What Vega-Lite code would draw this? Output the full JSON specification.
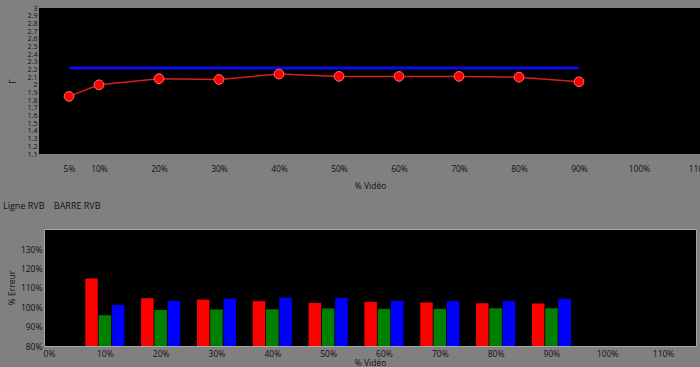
{
  "$schema": "https://vega.github.io/schema/vega-lite/v6.json",
  "background": "#808080",
  "padding": {"left": 2, "top": 4, "right": 0, "bottom": 0},
  "bounds": "flush",
  "center": true,
  "spacing": 75,
  "config": {
    "font": "Open Sans",
    "view": {"fill": "#000000", "stroke": null},
    "axis": {
      "labelFont": "Open Sans", "titleFont": "Open Sans",
      "labelFontSize": 8.5, "titleFontSize": 8.5,
      "labelColor": "#111111", "titleColor": "#111111",
      "titleFontWeight": "normal", "grid": false, "ticks": false, "domain": false,
      "labelOverlap": false
    }
  },
  "datasets": {
    "gamma": [
      {"pct": 5, "gamma": 1.85, "target": 2.22},
      {"pct": 10, "gamma": 2.0, "target": 2.22},
      {"pct": 20, "gamma": 2.08, "target": 2.22},
      {"pct": 30, "gamma": 2.07, "target": 2.22},
      {"pct": 40, "gamma": 2.14, "target": 2.22},
      {"pct": 50, "gamma": 2.11, "target": 2.22},
      {"pct": 60, "gamma": 2.11, "target": 2.22},
      {"pct": 70, "gamma": 2.11, "target": 2.22},
      {"pct": 80, "gamma": 2.1, "target": 2.22},
      {"pct": 90, "gamma": 2.04, "target": 2.22}
    ],
    "rgb": [
      {"pct": 10, "channel": "R", "value": 114.9},
      {"pct": 10, "channel": "G", "value": 95.9},
      {"pct": 10, "channel": "B", "value": 101.2},
      {"pct": 20, "channel": "R", "value": 104.7},
      {"pct": 20, "channel": "G", "value": 98.7},
      {"pct": 20, "channel": "B", "value": 103.3},
      {"pct": 30, "channel": "R", "value": 104.0},
      {"pct": 30, "channel": "G", "value": 98.9},
      {"pct": 30, "channel": "B", "value": 104.5},
      {"pct": 40, "channel": "R", "value": 103.2},
      {"pct": 40, "channel": "G", "value": 99.0},
      {"pct": 40, "channel": "B", "value": 105.0},
      {"pct": 50, "channel": "R", "value": 102.3},
      {"pct": 50, "channel": "G", "value": 99.4},
      {"pct": 50, "channel": "B", "value": 104.9},
      {"pct": 60, "channel": "R", "value": 102.8},
      {"pct": 60, "channel": "G", "value": 99.2},
      {"pct": 60, "channel": "B", "value": 103.3},
      {"pct": 70, "channel": "R", "value": 102.5},
      {"pct": 70, "channel": "G", "value": 99.2},
      {"pct": 70, "channel": "B", "value": 103.2},
      {"pct": 80, "channel": "R", "value": 102.1},
      {"pct": 80, "channel": "G", "value": 99.5},
      {"pct": 80, "channel": "B", "value": 103.2},
      {"pct": 90, "channel": "R", "value": 102.0},
      {"pct": 90, "channel": "G", "value": 99.5},
      {"pct": 90, "channel": "B", "value": 104.4}
    ]
  },
  "vconcat": [
    {
      "width": 662,
      "height": 146,
      "data": {"name": "gamma"},
      "resolve": {"axis": {"y": "independent"}},
      "encoding": {
        "x": {
          "field": "pct", "type": "quantitative",
          "scale": {"domain": [0, 110.33], "nice": false, "zero": false},
          "axis": {
            "title": "% Vidéo",
            "values": [5, 10, 20, 30, 40, 50, 60, 70, 80, 90, 100, 110],
            "labelExpr": "datum.value + '%'",
            "labelPadding": 10, "titlePadding": 9, "labelFlush": false
          }
        }
      },
      "layer": [
        {
          "mark": {"type": "line", "color": "#0a0ae6", "strokeWidth": 3},
          "encoding": {
            "y": {
              "field": "target", "type": "quantitative",
              "scale": {"domain": [1.1, 3.0], "nice": false, "zero": false},
              "axis": {
                "title": "Γ", "orient": "left",
                "values": [1.1, 1.2, 1.3, 1.4, 1.5, 1.6, 1.7, 1.8, 1.9, 2.0, 2.1, 2.2, 2.3, 2.4, 2.5, 2.6, 2.7, 2.8, 2.9, 3.0],
                "format": ".1~f",
                "labelPadding": 2, "titlePadding": 9, "labelFlush": false, "labelOverlap": false, "labelFontSize": 7.2
              }
            }
          }
        },
        {
          "mark": {"type": "line", "color": "#d81e1e", "strokeWidth": 1.5},
          "encoding": {"y": {"field": "gamma", "type": "quantitative", "axis": null}}
        },
        {
          "mark": {"type": "point", "filled": true, "size": 95, "fill": "#ff0000", "stroke": "#ff6b6b", "strokeWidth": 1, "opacity": 1},
          "encoding": {"y": {"field": "gamma", "type": "quantitative", "axis": null}}
        }
      ]
    },
    {
      "width": 652,
      "height": 117,
      "view": {"fill": "#000000", "stroke": "#a8a8a8", "strokeWidth": 1},
      "title": {
        "text": "Ligne RVB\u00a0\u00a0\u00a0\u00a0BARRE RVB",
        "anchor": "start", "frame": "group", "dx": -41, "offset": 18,
        "font": "Open Sans", "fontSize": 9, "fontWeight": "normal", "color": "#111111"
      },
      "data": {"name": "rgb"},
      "encoding": {
        "x": {
          "field": "pct", "type": "quantitative",
          "scale": {"domain": [0, 115], "nice": false, "zero": false},
          "axis": {
            "title": "% Vidéo",
            "values": [0, 10, 20, 30, 40, 50, 60, 70, 80, 90, 100, 110],
            "labelExpr": "datum.value + '%'",
            "labelPadding": 3, "titlePadding": 1, "labelFlush": false
          }
        },
        "y": {
          "field": "value", "type": "quantitative",
          "scale": {"domain": [80, 140.5], "nice": false, "zero": false},
          "axis": {
            "title": "% Erreur",
            "values": [80, 90, 100, 110, 120, 130],
            "labelExpr": "datum.value + '%'",
            "labelPadding": 2, "titlePadding": 4, "labelFlush": false
          }
        },
        "y2": {"datum": 80}
      },
      "layer": [
        {
          "transform": [{"filter": "datum.channel === 'R'"}],
          "mark": {"type": "bar", "color": "#ff0000", "width": 12.5, "xOffset": -13.3}
        },
        {
          "transform": [{"filter": "datum.channel === 'G'"}],
          "mark": {"type": "bar", "color": "#008000", "width": 12.5, "xOffset": 0}
        },
        {
          "transform": [{"filter": "datum.channel === 'B'"}],
          "mark": {"type": "bar", "color": "#0000ff", "width": 12.5, "xOffset": 13.3}
        }
      ]
    }
  ]
}
